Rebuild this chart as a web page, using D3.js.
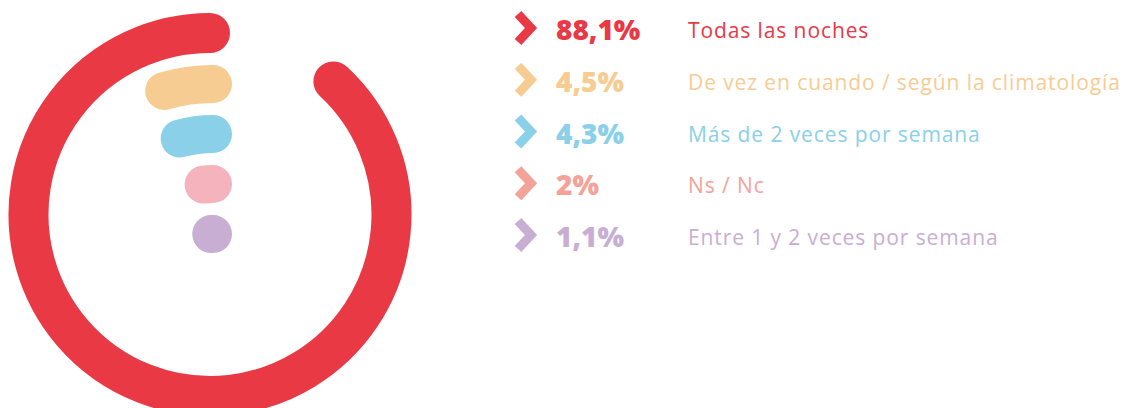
<!DOCTYPE html>
<html>
<head>
<meta charset="utf-8">
<script src="https://cdn.jsdelivr.net/npm/d3@7"></script>
<style>
  body { margin: 0; background: #fff; }
  svg { display: block; }
</style>
</head>
<body>
<div id="chart"></div>
<script>
// data
var categories = ["Todas las noches", "De vez en cuando / según la climatología", "Más de 2 veces por semana", "Ns / Nc", "Entre 1 y 2 veces por semana"];
var values = [88.1, 4.5, 4.3, 2, 1.1];
var valueLabels = ["88,1%", "4,5%", "4,3%", "2%", "1,1%"];

// colours
var arcColors = ["#e83945", "#f7cc93", "#8ad0e9", "#f4b3bd", "#c8aed3"];
var textColors = ["#e83945", "#f7cc93", "#8ad0e9", "#f3a398", "#c8aed3"];

var svgWidth = 1128;
var svgHeight = 408;

var svg = d3.select("#chart")
  .append("svg")
  .attr("width", svgWidth)
  .attr("height", svgHeight);

// percent -> angle (counter clockwise from 12 o'clock)
var angle = d3.scaleLinear().domain([0, 100]).range([0, -2 * Math.PI]);

function arcPath(cx, cy, r, v) {
  var p = d3.path();
  var a0 = -Math.PI / 2;
  var a1 = -Math.PI / 2 + angle(v);
  p.moveTo(cx + r * Math.cos(a0), cy + r * Math.sin(a0));
  p.arc(cx, cy, r, a0, a1, true);
  return p.toString();
}

// big ring
svg.append("path")
  .attr("d", arcPath(210, 214.5, 181.5, values[0]))
  .attr("fill", "none")
  .attr("stroke", arcColors[0])
  .attr("stroke-width", 40)
  .attr("stroke-linecap", "round");

// small arcs, one per ring
var small = categories.slice(1);
var radius = d3.scalePoint().domain(small).range([175, 25]);

svg.selectAll(".small")
  .data(small)
  .enter()
  .append("path")
  .attr("class", "small")
  .attr("d", (d, i) => arcPath(213, 259, radius(d), values[i + 1]))
  .attr("fill", "none")
  .attr("stroke", (d, i) => arcColors[i + 1])
  .attr("stroke-width", 38)
  .attr("stroke-linecap", "round");

// legend
var rowY = d3.scalePoint().domain(categories).range([40, 247]);

var rows = svg.selectAll(".row")
  .data(categories)
  .enter()
  .append("g")
  .attr("class", "row")
  .attr("transform", d => `translate(0, ${rowY(d)})`);

rows.append("path")
  .attr("d", "M518,-26 L531,-12 L518,2")
  .attr("fill", "none")
  .attr("stroke", (d, i) => textColors[i])
  .attr("stroke-width", 9)
  .attr("stroke-linejoin", "miter");

rows.append("text")
  .attr("x", 556)
  .attr("y", 0)
  .text((d, i) => valueLabels[i])
  .attr("font-family", "'Open Sans', sans-serif")
  .attr("font-weight", 800)
  .attr("font-size", "28px")
  .attr("fill", (d, i) => textColors[i]);

rows.append("text")
  .attr("x", 688)
  .attr("y", -2)
  .text(d => d)
  .attr("font-family", "'Open Sans', sans-serif")
  .attr("font-size", "21px")
  .attr("letter-spacing", "0.9px")
  .attr("fill", (d, i) => textColors[i]);
</script>
</body>
</html>
